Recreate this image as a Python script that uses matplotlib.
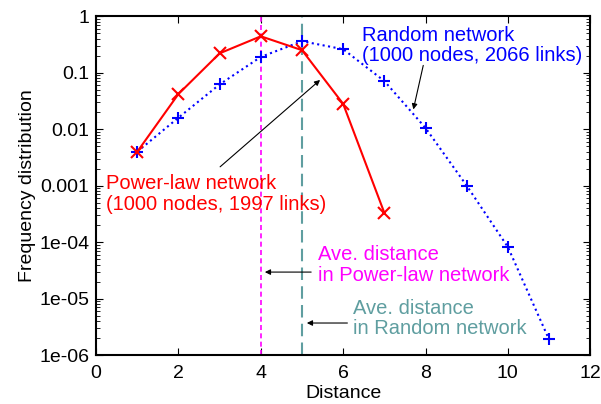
import numpy as np
import matplotlib.pyplot as plt

plt.rcParams['font.family'] = ['Liberation Sans', 'DejaVu Sans']

# distance distributions
dist_pl = [1, 2, 3, 4, 5, 6, 7]
freq_pl = [0.004, 0.042, 0.22, 0.44, 0.25, 0.028, 0.00033]
dist_rnd = [1, 2, 3, 4, 5, 6, 7, 8, 9, 10, 11]
freq_rnd = [0.004, 0.016, 0.062, 0.19, 0.36, 0.26, 0.071, 0.0105, 0.001, 8.2e-5, 1.9e-6]
avg_pl = 4.0
avg_rnd = 5.0

yticks = [1e-6, 1e-5, 1e-4, 1e-3, 1e-2, 1e-1, 1]
ylabels = ['1e-06', '1e-05', '1e-04', '0.001', '0.01', '0.1', '1']

teal = '#5f9ea0'
fs = 14

fig = plt.figure(figsize=(6.01, 4.04), dpi=100)
ax = fig.add_axes([0.16, 0.121, 0.822, 0.839])

ax.axvline(avg_pl, color='magenta', ls=(0, (3, 2)), lw=1.2)
ax.axvline(avg_rnd, color=teal, ls=(0, (6, 3)), lw=1.5)
ax.plot(dist_rnd, freq_rnd, color='blue', ls=':', lw=1.5, marker='+', ms=9, mew=1.5)
ax.plot(dist_pl, freq_pl, color='red', ls='-', lw=1.5, marker='x', ms=8, mew=1.5)

ax.set_yscale('log')
ax.set_xlim(0, 12)
ax.set_ylim(1e-6, 1)
ax.set_xticks(range(0, 13, 2))
ax.set_yticks(yticks)
ax.set_yticklabels(ylabels)
ax.tick_params(which='both', direction='in', top=True, right=True, labelsize=fs)
ax.tick_params(which='major', length=5, pad=5)
ax.tick_params(which='minor', length=3)
ax.tick_params(axis='x', which='major', pad=7)
for s in ax.spines.values():
    s.set_linewidth(1.5)
ax.set_xlabel('Distance', fontsize=fs, labelpad=2)
ax.set_ylabel('Frequency distribution', fontsize=fs, labelpad=2)

afs = 14.5
ls = 1.12
arrow = dict(arrowstyle='-|>', color='black', lw=0.8, mutation_scale=8)
ax.text(0.25, 0.0016, 'Power-law network\n(1000 nodes, 1997 links)', color='red', fontsize=afs,
        ha='left', va='top', linespacing=ls)
ax.annotate('', xy=(5.49, 0.08), xytext=(2.96, 0.002), arrowprops=arrow)
ax.text(6.45, 0.68, 'Random network\n(1000 nodes, 2066 links)', color='blue', fontsize=afs,
        ha='left', va='top', linespacing=ls)
ax.annotate('', xy=(7.69, 0.02), xytext=(7.96, 0.15), arrowprops=arrow)
ax.text(5.4, 9e-5, 'Ave. distance\nin Power-law network', color='magenta', fontsize=afs,
        ha='left', va='top', linespacing=ls)
ax.annotate('', xy=(4.03, 2.95e-5), xytext=(5.29, 2.95e-5), arrowprops=arrow)
ax.text(6.25, 1e-5, 'Ave. distance\nin Random network', color=teal, fontsize=afs,
        ha='left', va='top', linespacing=ls)
ax.annotate('', xy=(5.05, 3.7e-6), xytext=(6.17, 3.7e-6), arrowprops=arrow)

fig.savefig('out.png', dpi=100)
